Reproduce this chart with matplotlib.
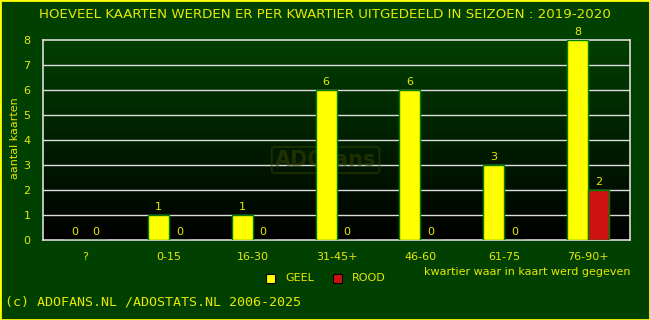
import numpy as np
import matplotlib
matplotlib.use("Agg")
import matplotlib.pyplot as plt
from matplotlib.colors import LinearSegmentedColormap
from matplotlib.patches import Rectangle

categories = ["?", "0-15", "16-30", "31-45+", "46-60", "61-75", "76-90+"]
geel = [0, 1, 1, 6, 6, 3, 8]
rood = [0, 0, 0, 0, 0, 0, 2]
yticks = [0, 1, 2, 3, 4, 5, 6, 7, 8]

BG = "#004000"
YEL = "#ffff00"
TXT = "#e8e800"
RED = "#cc1111"

fig = plt.figure(figsize=(6.5, 3.2), dpi=100, facecolor=BG)
ax = fig.add_axes([43/650, 1 - 240/320, 587/650, 200/320])
ax.set_facecolor("black")

n = len(categories)
x = np.arange(n)
ax.set_xlim(-0.5, n - 0.5)
ax.set_ylim(0, 8)

# gradient background
cmap = LinearSegmentedColormap.from_list("g", ["#000000", "#003f00"])
grad = np.linspace(0, 1, 256).reshape(-1, 1)
ax.imshow(grad, aspect="auto", cmap=cmap, origin="lower",
          extent=[-0.5, n - 0.5, 0, 8], zorder=0)

for y in yticks[1:-1]:
    ax.axhline(y, color="#dddddd", lw=1.0, zorder=1)

w = 0.25
ax.bar(x - w/2, geel, width=w, color=YEL, edgecolor="#008000", lw=1, zorder=3)
ax.bar(x + w/2, rood, width=w, color=RED, edgecolor="#008000", lw=1, zorder=3)

for xi, v in zip(x - w/2, geel):
    ax.text(xi, v + 0.12, str(v), ha="center", va="bottom", color=TXT, fontsize=8, zorder=4)
for xi, v in zip(x + w/2, rood):
    ax.text(xi, v + 0.12, str(v), ha="center", va="bottom", color=TXT, fontsize=8, zorder=4)

# watermark
ax.text(2.87, 3.2, "ADOfans", ha="center", va="center", color="#3a4400", fontsize=15,
        fontweight="bold", zorder=2, alpha=0.55,
        bbox=dict(boxstyle="round,pad=0.15", fc="none", ec="#3a4400", lw=1.2, alpha=0.55))

for s in ax.spines.values():
    s.set_color("#dddddd")
    s.set_linewidth(1.2)

ax.set_yticks(yticks)
ax.set_yticklabels([str(t) for t in yticks])
ax.set_xticks(x)
ax.set_xticklabels(categories)
ax.tick_params(axis="both", length=0, colors=TXT, labelsize=8)
ax.tick_params(axis="y", pad=9)
ax.tick_params(axis="x", pad=9)

fig.text(15/650, 1 - 138/320, "aantal kaarten", rotation=90, ha="center", va="center",
         color=TXT, fontsize=8)
fig.text(0.5, 1 - 14/320, "HOEVEEL KAARTEN WERDEN ER PER KWARTIER UITGEDEELD IN SEIZOEN : 2019-2020",
         ha="center", va="center", color=TXT, fontsize=9.6)
fig.text(630/650, 1 - 272/320, "kwartier waar in kaart werd gegeven", ha="right", va="center",
         color=TXT, fontsize=8)

# legend
fig.patches.append(Rectangle((266/650, 1 - 283/320), 9/650, 9/320, transform=fig.transFigure,
                             facecolor=YEL, edgecolor="black", lw=0.8, figure=fig))
fig.text(285/650, 1 - 278/320, "GEEL", ha="left", va="center", color=TXT, fontsize=8)
fig.patches.append(Rectangle((333/650, 1 - 283/320), 9/650, 9/320, transform=fig.transFigure,
                             facecolor=RED, edgecolor="black", lw=0.8, figure=fig))
fig.text(352/650, 1 - 278/320, "ROOD", ha="left", va="center", color=TXT, fontsize=8)

fig.text(5/650, 1 - 302/320, "(c) ADOFANS.NL /ADOSTATS.NL 2006-2025", ha="left", va="center",
         color=TXT, fontsize=9.6, family="DejaVu Sans Mono")

fig.patches.append(Rectangle((0, 0), 1, 1, transform=fig.transFigure, fill=False,
                             edgecolor=YEL, lw=2, figure=fig))

fig.savefig("out.png", dpi=100, facecolor=BG)
